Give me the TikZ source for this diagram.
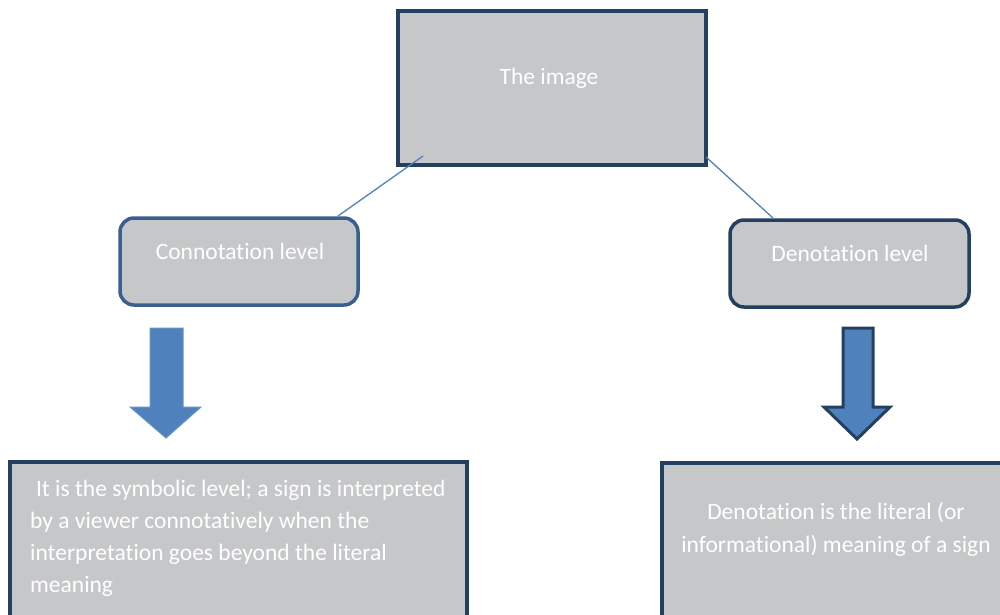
\documentclass[tikz,border=0pt]{standalone}
\usepackage{fontspec}
\setmainfont{Carlito}[RawFeature=-liga]
\usetikzlibrary{calc}
\definecolor{boxfill}{HTML}{C6C7C9}
\definecolor{navy}{HTML}{243F60}
\definecolor{midnavy}{HTML}{3A5F8E}
\definecolor{accent}{HTML}{4F81BD}
\definecolor{accentedge}{HTML}{6A93C6}
\tikzset{
  x=1pt, y=-1pt,
  txt/.style={text=white, font=\fontsize{23.5}{32}\selectfont},
  plainbox/.style={draw=navy, line width=4pt, fill=boxfill},
  levelbox/.style={line width=3.5pt, fill=boxfill, rounded corners=14pt},
  link/.style={draw=accent, line width=1.3pt},
  bigarrow/.style={fill=accent, line join=miter},
}
\begin{document}
\begin{tikzpicture}
\useasboundingbox (0,0) rectangle (1000,614);

% top box
\draw[plainbox] (398,11) rectangle (706,165);
\node[txt] (img) at (549,78) {The image};
\coordinate (imgL) at (423,156);
\coordinate (imgR) at (706,157);

% level boxes
\draw[levelbox, draw=midnavy] (120,218) rectangle (358,305);
\node[txt] (con) at (240,251) {Connotation level};
\coordinate (conT) at (338,216);
\draw[levelbox, draw=navy] (730,220) rectangle (969,307);
\node[txt] (den) at (850,253) {Denotation level};
\coordinate (denT) at (773,218);

% connectors
\draw[link] (imgL) -- (conT);
\draw[link] (imgR) -- (denT);

% block arrows
\draw[bigarrow, draw=accentedge, line width=1pt]
  (150,328) -- (183,328) -- (183,407) -- (201,407) -- (166,438)
  -- (130,407) -- (150,407) -- cycle;
\draw[bigarrow, draw=navy, line width=3pt]
  (843,328) -- (873,328) -- (873,407) -- (890,407) -- (857,439)
  -- (824,407) -- (843,407) -- cycle;

% bottom boxes
\draw[plainbox] (10,462) rectangle (467,630);
\node[txt, anchor=north west, align=left, inner sep=0pt] (conText) at (30,480)
  {\hspace*{0.25em}It is the symbolic level; a sign is interpreted\\
   by a viewer connotatively when the\\
   interpretation goes beyond the literal\\
   meaning};
\draw[plainbox] (662,463) rectangle (1010,630);
\node[txt, align=center, font=\fontsize{23.5}{33}\selectfont] (denText) at (836,529)
  {Denotation is the literal (or\\informational) meaning of a sign};
\end{tikzpicture}
\end{document}
